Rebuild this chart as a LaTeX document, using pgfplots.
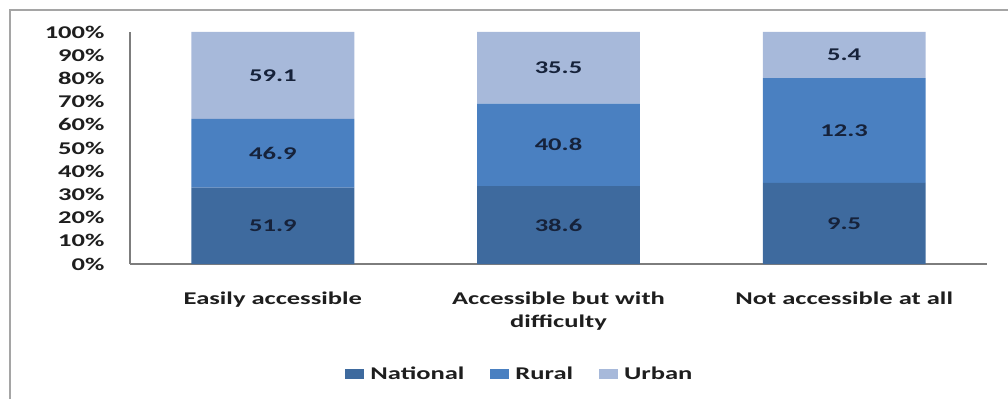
\documentclass[border=0pt]{standalone}
\usepackage{fontspec}
\setmainfont{Carlito}[FakeStretch=1.48]
\usepackage{pgfplots}
\pgfplotsset{compat=1.18}
\definecolor{cNat}{RGB}{62,106,158}
\definecolor{cRur}{RGB}{74,128,193}
\definecolor{cUrb}{RGB}{167,185,218}
\definecolor{cFrame}{RGB}{165,165,165}
\definecolor{cAxis}{RGB}{125,125,125}
\definecolor{cText}{RGB}{30,30,30}
\definecolor{cLab}{RGB}{22,34,58}
\newcommand{\cf}{\fontsize{18}{23}\selectfont\bfseries}
\begin{document}
\begin{tikzpicture}[x=1bp,y=1bp]
\path[use as bounding box] (0,0) rectangle (1008,399);
\draw[cFrame, line width=2bp] (10,0) -- (10,389) -- (1008,389);
\begin{axis}[
  at={(130bp,135bp)}, anchor=south west,
  scale only axis, width=857bp, height=232bp,
  xmin=-0.5, xmax=2.5, ymin=0, ymax=100,
  ybar stacked, bar width=0.57,
  axis lines=left,
  axis line style={-, cAxis, line width=1.5bp},
  major tick length=0,
  xtick={0,1,2},
  xticklabels={Easily accessible,{Accessible but with\\difficulty},Not accessible at all},
  xticklabel style={text width=300bp, align=center, font=\cf, text=cText, yshift=-24bp},
  ytick={0,10,...,100},
  yticklabels={0\%,10\%,20\%,30\%,40\%,50\%,60\%,70\%,80\%,90\%,100\%},
  yticklabel style={font=\cf, text=cText, xshift=-22bp},
  legend columns=3,
  legend style={at={(0.455,-0.474)}, anchor=center, draw=none, fill=none, font=\cf, text=cText,
    /tikz/every odd column/.append style={column sep=4bp},
    /tikz/every even column/.append style={column sep=24bp}},
  legend image code/.code={\fill[#1] (0bp,-5bp) rectangle (19bp,5bp);},
]
% shares of each group (percent of the bar), raw values shown as labels
\addplot[fill=cNat, draw=none] coordinates {(0,32.87) (1,33.59) (2,34.93)};
\addplot[fill=cRur, draw=none] coordinates {(0,29.70) (1,35.51) (2,45.22)};
\addplot[fill=cUrb, draw=none] coordinates {(0,37.43) (1,30.90) (2,19.85)};
\legend{National,Rural,Urban}
\end{axis}
\begin{axis}[
  at={(130bp,135bp)}, anchor=south west,
  scale only axis, width=857bp, height=232bp,
  xmin=-0.5, xmax=2.5, ymin=0, ymax=100,
  axis lines=none,
  nodes near coords,
  point meta=explicit symbolic,
  every node near coord/.append style={anchor=center, font=\cf, text=cLab},
]
\addplot[only marks, mark=none] coordinates {
  (0,16.44)[51.9] (0,47.72)[46.9] (0,81.29)[59.1]
  (1,16.80)[38.6] (1,51.35)[40.8] (1,84.55)[35.5]
  (2,17.47)[9.5]  (2,57.54)[12.3] (2,90.08)[5.4]
};
\end{axis}
\end{tikzpicture}
\end{document}
